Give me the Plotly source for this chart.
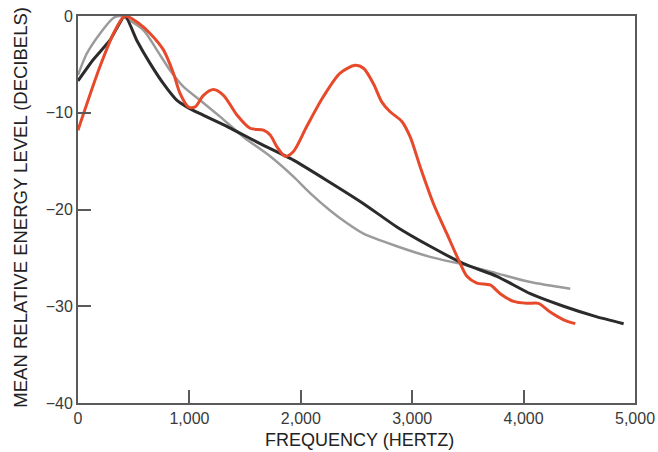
import plotly.graph_objects as go

# Red curve (measured spectrum)
red_x = [0, 198, 332, 422, 550, 647, 767, 856, 916, 991, 1051, 1126, 1216, 1306, 1425, 1545, 1665, 1725,
         1785, 1859, 1934, 2054, 2204, 2353, 2488, 2563, 2652, 2728, 2802, 2907, 2982, 3072, 3191, 3311,
         3416, 3491, 3580, 3700, 3790, 3910, 4030, 4134, 4239, 4359, 4464]
red_y = [-11.8, -5.2, -1.5, 0, -0.8, -1.8, -3.5, -5.9, -8.0, -9.4, -9.4, -8.2, -7.6, -8.2, -10.2, -11.6,
         -11.8, -12.3, -13.5, -14.5, -14.0, -11.4, -8.3, -5.9, -5.1, -5.4, -7.0, -8.9, -9.9, -10.9, -12.5,
         -15.6, -19.4, -22.5, -25.2, -26.9, -27.6, -27.8, -28.7, -29.5, -29.7, -29.7, -30.6, -31.4, -31.8]

# Black curve
black_x = [0, 138, 287, 422, 527, 647, 767, 886, 976, 1096, 1336, 1635, 1934, 2234, 2563, 2862, 3161,
           3461, 3760, 4060, 4359, 4659, 4898]
black_y = [-6.7, -4.5, -2.5, 0, -2.5, -4.9, -7.0, -8.7, -9.4, -10.1, -11.4, -13.2, -14.9, -17.0, -19.4,
           -21.8, -23.8, -25.6, -26.9, -28.7, -30.0, -31.1, -31.8]

# Grey curve
grey_x = [0, 78, 198, 317, 380, 587, 707, 826, 946, 1096, 1275, 1485, 1725, 1934, 2084, 2263, 2413,
          2563, 2862, 3161, 3461, 3760, 4060, 4419]
grey_y = [-6.1, -3.9, -1.8, -0.2, 0, -1.45, -3.5, -5.6, -7.3, -8.7, -10.4, -12.5, -14.5, -16.6, -18.3,
          -20.1, -21.4, -22.5, -23.8, -24.9, -25.7, -26.6, -27.5, -28.2]

x_ticks = [0, 1000, 2000, 3000, 4000, 5000]
x_tick_labels = ["0", "1,000", "2,000", "3,000", "4,000", "5,000"]
y_ticks = [0, -10, -20, -30, -40]
y_tick_labels = ["0", "\u221210", "\u221220", "\u221230", "\u221240"]

fig = go.Figure()
fig.add_trace(go.Scatter(x=grey_x, y=grey_y, mode="lines",
                         line=dict(color="#9b9b9b", width=2.5, shape="spline", smoothing=0.7)))
fig.add_trace(go.Scatter(x=black_x, y=black_y, mode="lines",
                         line=dict(color="#2b2b2b", width=3, shape="spline", smoothing=0.5)))
fig.add_trace(go.Scatter(x=red_x, y=red_y, mode="lines",
                         line=dict(color="#e64a2b", width=3, shape="spline", smoothing=0.8)))

font_family = "Liberation Sans, Arial, sans-serif"
axis_common = dict(showgrid=False, zeroline=False, showline=True, linecolor="#5a5a5a", linewidth=2,
                   mirror=True, ticks="inside", ticklen=13, tickwidth=2, tickcolor="#5a5a5a",
                   tickfont=dict(size=16, color="#3a3a3a"), automargin=False,
                   ticklabeloverflow="allow")
fig.update_layout(
    width=658, height=452,
    margin=dict(l=78, r=23, t=16, b=49, autoexpand=False),
    paper_bgcolor="white", plot_bgcolor="white",
    showlegend=False,
    font=dict(family=font_family, size=16, color="#333333"),
    xaxis=dict(range=[0, 5000], tickvals=x_ticks, ticktext=x_tick_labels, **axis_common),
    yaxis=dict(range=[-40, 0], tickvals=y_ticks, ticktext=y_tick_labels, **axis_common),
    annotations=[
        dict(text="FREQUENCY (HERTZ)", xref="paper", yref="paper", x=0.506, y=-0.0956,
             showarrow=False, xanchor="center", yanchor="middle",
             font=dict(size=18, color="#222222")),
        dict(text="MEAN RELATIVE ENERGY LEVEL (DECIBELS)", xref="paper", yref="paper", x=-0.104, y=0.505,
             showarrow=False, xanchor="center", yanchor="middle", textangle=-90,
             font=dict(size=18.5, color="#222222")),
    ],
)

# remove the default 8px page margin so the 658x452 figure fills the window exactly
fig.write_html("out.html",
               config={"displayModeBar": False},
               post_script="document.body.style.margin='0';document.body.style.overflow='hidden';")
